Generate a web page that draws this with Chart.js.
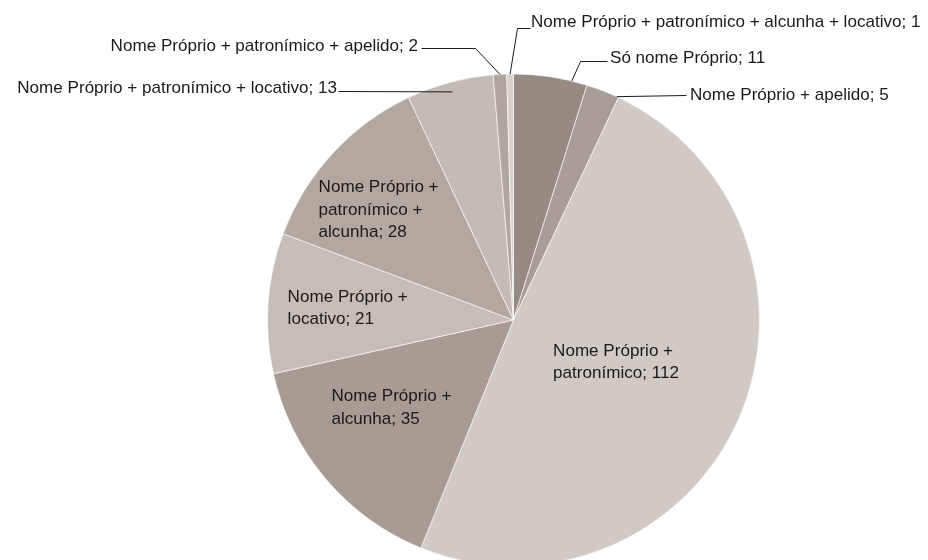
<!DOCTYPE html>
<html>
<head>
<meta charset="utf-8">
<script src="https://cdn.jsdelivr.net/npm/chart.js@4/dist/chart.umd.min.js"></script>
<style>
  html, body { margin: 0; padding: 0; background: #ffffff; }
  #wrap { width: 928px; height: 560px; overflow: hidden; position: relative; }
  canvas { display: block; }
</style>
</head>
<body>
<div id="wrap"><canvas id="c" width="928" height="640"></canvas></div>
<script>
// ---- data ----
const categories = [
  "Só nome Próprio",
  "Nome Próprio + apelido",
  "Nome Próprio + patronímico",
  "Nome Próprio + alcunha",
  "Nome Próprio + locativo",
  "Nome Próprio + patronímico + alcunha",
  "Nome Próprio + patronímico + locativo",
  "Nome Próprio + patronímico + apelido",
  "Nome Próprio + patronímico + alcunha + locativo"
];
const values = [11, 5, 112, 35, 21, 28, 13, 2, 1];
const sliceColors = [
  "#978a82", "#a89e97", "#d0c9c4", "#a79b94", "#c6bdb7",
  "#b3a8a0", "#c4bbb5", "#b1a69f", "#d8d1cc"
];
// line breaks used for labels drawn inside slices
const insideLines = {
  2: ["Nome Próprio +", "patronímico; 112"],
  3: ["Nome Próprio +", "alcunha; 35"],
  4: ["Nome Próprio +", "locativo; 21"],
  5: ["Nome Próprio +", "patronímico +", "alcunha; 28"]
};

// ---- label layout (positions/styles) ----
const FONT = "17px 'Liberation Sans', Arial, sans-serif";
const REF_TEXT = "Nome Próprio +";
const REF_WIDTH = 120;   // width this text is drawn at (horizontal fit)
const LINE_H = 22.5;
const insideLayout = {
  2: { rf: 0.451, da: -1.2 },
  3: { rf: 0.611, da: 4.5 },
  4: { rf: 0.676, da: 0.1 },
  5: { rf: 0.708, da: -3.4 }
};
const outsideLayout = {
  0: { t: 0.79, rf: 1.0, pts: [[580, 61], [607, 61]], tx: 610, ty: 63, align: "left" },
  1: { t: 0.94, rf: 1.0, pts: [[686, 95]], tx: 690, ty: 100, align: "left" },
  6: { t: 0.5, rf: 0.96, pts: [[338, 91]], tx: 337, ty: 93, align: "right" },
  7: { t: 0.5, rf: 1.0, pts: [[475, 48], [421, 48]], tx: 418, ty: 51, align: "right" },
  8: { t: 0.5, rf: 1.0, pts: [[517, 28], [530, 28]], tx: 531, ty: 27, align: "left" }
};

function drawText(ctx, s, x, y, sx) {
  ctx.save();
  ctx.translate(x, y);
  ctx.scale(sx, 1);
  ctx.fillText(s, 0, 0);
  ctx.restore();
}

const labelPlugin = {
  id: "pieLabels",
  afterDatasetsDraw(chart) {
    const ctx = chart.ctx;
    const meta = chart.getDatasetMeta(0);
    ctx.save();
    ctx.font = FONT;
    const sx = REF_WIDTH / ctx.measureText(REF_TEXT).width;
    ctx.fillStyle = "#1a1a1a";
    ctx.strokeStyle = "#1a1a1a";
    ctx.lineWidth = 1;
    meta.data.forEach((arc, i) => {
      const { x, y, startAngle, endAngle, outerRadius } = arc.getProps(["x", "y", "startAngle", "endAngle", "outerRadius"], true);
      if (insideLayout[i]) {
        const L = insideLayout[i];
        const mid = (startAngle + endAngle) / 2 + L.da * Math.PI / 180;
        const cx = x + Math.cos(mid) * outerRadius * L.rf;
        const cy = y + Math.sin(mid) * outerRadius * L.rf;
        const lines = insideLines[i];
        const w = Math.max(...lines.map(s => ctx.measureText(s).width)) * sx;
        const left = cx - w / 2;
        const top = cy - (lines.length * LINE_H) / 2;
        ctx.textAlign = "left";
        ctx.textBaseline = "middle";
        lines.forEach((s, k) => drawText(ctx, s, left, top + LINE_H * (k + 0.5), sx));
      } else if (outsideLayout[i]) {
        const L = outsideLayout[i];
        const a = startAngle + (endAngle - startAngle) * L.t;
        const px = x + Math.cos(a) * outerRadius * L.rf;
        const py = y + Math.sin(a) * outerRadius * L.rf;
        ctx.beginPath();
        ctx.moveTo(px, py);
        L.pts.forEach(p => ctx.lineTo(p[0] + 0.5, p[1] + 0.5));
        ctx.stroke();
        ctx.textAlign = L.align;
        ctx.textBaseline = "alphabetic";
        drawText(ctx, categories[i] + "; " + values[i], L.tx, L.ty, sx);
      }
    });
    ctx.restore();
  }
};

new Chart(document.getElementById("c"), {
  type: "pie",
  data: {
    labels: categories,
    datasets: [{
      data: values,
      backgroundColor: sliceColors,
      borderColor: "rgba(255,255,255,0.6)",
      borderWidth: 1
    }]
  },
  options: {
    responsive: false,
    animation: false,
    radius: 246,
    layout: { padding: { left: 267.5, right: 168.5, top: 74, bottom: 74 } },
    plugins: {
      legend: { display: false },
      tooltip: { enabled: false }
    }
  },
  plugins: [labelPlugin]
});
</script>
</body>
</html>
